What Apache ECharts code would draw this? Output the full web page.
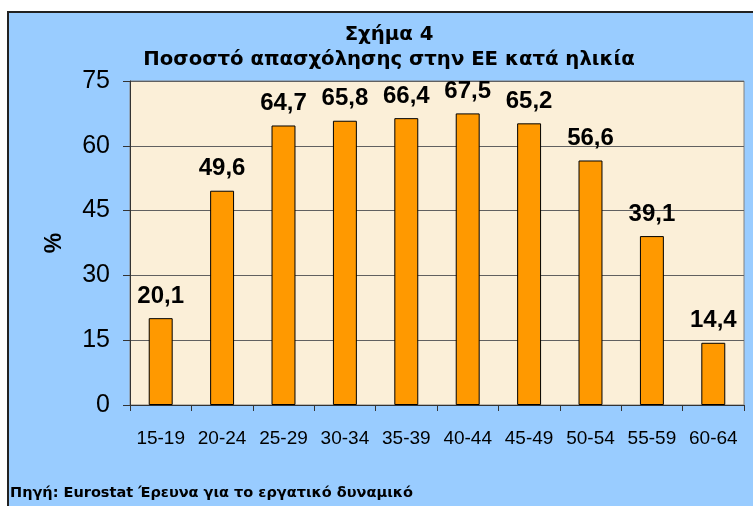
<!DOCTYPE html>
<html>
<head>
<meta charset="utf-8">
<script src="https://cdn.jsdelivr.net/npm/echarts@6/dist/echarts.min.js"></script>
<style>
  html, body { margin: 0; padding: 0; background: #ffffff; }
  #chart { width: 753px; height: 506px; }
</style>
</head>
<body>
<div id="chart"></div>
<script>
var ageGroups = ['15-19', '20-24', '25-29', '30-34', '35-39', '40-44', '45-49', '50-54', '55-59', '60-64'];
var employmentRate = [20.1, 49.6, 64.7, 65.8, 66.4, 67.5, 65.2, 56.6, 39.1, 14.4];
var titleLines = ['Σχήμα 4', 'Ποσοστό απασχόλησης στην ΕΕ κατά ηλικία'];
var sourceText = 'Πηγή: Eurostat Έρευνα για το εργατικό δυναμικό';

var myChart = echarts.init(document.getElementById('chart'));

var option = {
  backgroundColor: '#ffffff',
  animation: false,
  textStyle: { fontFamily: 'Arial, "Liberation Sans", sans-serif' },
  graphic: [
    {
      type: 'rect',
      z: -10,
      shape: { x: 8, y: 12, width: 760, height: 510 },
      style: { fill: '#99CCFF', stroke: '#222222', lineWidth: 2 }
    },
    {
      type: 'text',
      left: 10,
      top: 486,
      style: {
        text: sourceText,
        font: 'bold 14.5px "DejaVu Sans", sans-serif',
        fill: '#000000'
      }
    }
  ],
  title: {
    text: titleLines.join('\n'),
    left: 384,
    textAlign: 'center',
    top: 17,
    textStyle: {
      fontSize: 19.7,
      fontWeight: 'bold',
      color: '#000000',
      lineHeight: 25,
      fontFamily: '"DejaVu Sans", sans-serif'
    }
  },
  grid: {
    left: 130,
    top: 81,
    right: 9,
    bottom: 101,
    show: true,
    backgroundColor: '#FBEFD8',
    borderColor: '#808080',
    borderWidth: 1
  },
  xAxis: {
    type: 'category',
    data: ageGroups,
    axisLine: { show: true, lineStyle: { color: '#333333', width: 1 } },
    axisTick: { show: true, length: 6, alignWithLabel: false, lineStyle: { color: '#333333' } },
    axisLabel: { color: '#000000', fontSize: 19, margin: 24, interval: 0 }
  },
  yAxis: {
    type: 'value',
    min: 0,
    max: 75,
    interval: 15,
    name: '%',
    nameLocation: 'middle',
    nameRotate: 90,
    nameGap: 64,
    nameTextStyle: { color: '#000000', fontSize: 23, fontWeight: 'bold' },
    axisLine: { show: true, lineStyle: { color: '#333333', width: 1 } },
    axisTick: { show: true, length: 7, lineStyle: { color: '#333333' } },
    axisLabel: { color: '#000000', fontSize: 25, margin: 20 },
    splitLine: { show: true, lineStyle: { color: '#606060', width: 1 } }
  },
  series: [
    {
      type: 'bar',
      data: employmentRate,
      barWidth: '39%',
      itemStyle: { color: '#FF9900', borderColor: '#000000', borderWidth: 1 },
      label: {
        show: true,
        position: 'top',
        distance: 10,
        color: '#000000',
        fontSize: 24,
        fontWeight: 'bold',
        formatter: function (p) { return String(p.value).replace('.', ','); }
      }
    }
  ]
};

myChart.setOption(option);
</script>
</body>
</html>
